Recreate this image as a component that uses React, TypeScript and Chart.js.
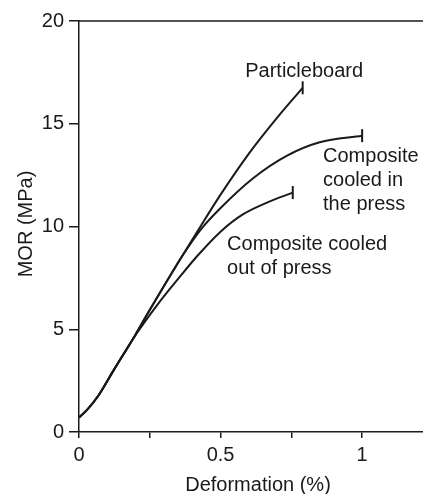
import React, { useEffect, useRef } from "react";
import { Chart, registerables } from "chart.js";

Chart.register(...registerables);

// Particleboard
const pbX = [0, 0.03, 0.07, 0.12, 0.2, 0.244, 0.3, 0.364, 0.42, 0.5, 0.6, 0.7, 0.79];
const pbY = [0.7, 1.1, 1.8, 2.95, 4.75, 5.8, 7.1, 8.55, 9.8, 11.55, 13.55, 15.3, 16.75];
// Composite cooled in the press
const inX = [0, 0.03, 0.07, 0.12, 0.2, 0.244, 0.3, 0.364, 0.43, 0.5, 0.615, 0.735, 0.85, 1.0];
const inY = [0.7, 1.1, 1.8, 2.95, 4.75, 5.8, 7.1, 8.55, 9.85, 10.9, 12.35, 13.45, 14.1, 14.42];
// Composite cooled out of press
const outX = [0, 0.03, 0.07, 0.12, 0.2, 0.28, 0.35, 0.42, 0.5, 0.58, 0.67, 0.755];
const outY = [0.7, 1.1, 1.8, 2.95, 4.72, 6.25, 7.45, 8.6, 9.75, 10.6, 11.2, 11.65];

const xTicks = [0, 0.25, 0.5, 0.75, 1];
const xTickLabels = ["0", "", "0.5", "", "1"];
const yTicks = [0, 5, 10, 15, 20];

const xTitle = "Deformation (%)";
const yTitle = "MOR (MPa)";

// annotation labels
const labelPB = { x: 0.587, y: 17.56, lines: ["Particleboard"] };
const labelIn = { x: 0.862, y: 13.41, lines: ["Composite", "cooled in", "the press"] };
const labelOut = { x: 0.523, y: 9.12, lines: ["Composite cooled", "out of press"] };

const FONT = "'Liberation Sans', Arial, Helvetica, sans-serif";
const INK = "#1a1a1a";

function series(xs: number[], ys: number[]) {
  return xs.map((x, i) => ({ x, y: ys[i] }));
}

function capRadius(n: number) {
  return Array.from({ length: n }, (_, i) => (i === n - 1 ? 6.5 : 0));
}

const textPlugin = {
  id: "texts",
  afterDraw(chart: any) {
    const { ctx, chartArea, scales } = chart;
    const xs = scales.x;
    const ys = scales.y;
    ctx.save();
    // top frame line
    ctx.strokeStyle = INK;
    ctx.lineWidth = 1.5;
    ctx.beginPath();
    ctx.moveTo(chartArea.left, chartArea.top);
    ctx.lineTo(chartArea.right, chartArea.top);
    ctx.stroke();

    ctx.fillStyle = INK;
    ctx.font = `20px ${FONT}`;
    ctx.textAlign = "left";
    ctx.textBaseline = "middle";
    for (const l of [labelPB, labelIn, labelOut]) {
      const px = xs.getPixelForValue(l.x);
      const py = ys.getPixelForValue(l.y);
      l.lines.forEach((t, i) => ctx.fillText(t, px, py + i * 24));
    }
    // x title
    ctx.textAlign = "center";
    ctx.fillText(xTitle, 258, 485);
    // y title
    ctx.translate(26, 224);
    ctx.rotate(-Math.PI / 2);
    ctx.fillText(yTitle, 0, 0);
    ctx.restore();
  },
};

export default function App() {
  const ref = useRef<HTMLCanvasElement | null>(null);
  useEffect(() => {
    if (!ref.current) return;
    const mk = (xs: number[], ys: number[]) => ({
      data: series(xs, ys),
      borderColor: INK,
      borderWidth: 2,
      cubicInterpolationMode: "monotone" as const,
      pointStyle: "line" as const,
      pointRotation: 90,
      pointRadius: capRadius(xs.length),
      pointBorderColor: INK,
      pointBorderWidth: 2,
      pointHoverRadius: 0,
      fill: false,
    });
    const chart = new Chart(ref.current, {
      type: "line",
      data: {
        datasets: [mk(pbX, pbY), mk(inX, inY), mk(outX, outY)],
      },
      plugins: [textPlugin],
      options: {
        animation: false,
        responsive: false,
        maintainAspectRatio: false,
        layout: { autoPadding: false, padding: { top: 21, right: 0, left: 0, bottom: 0 } },
        plugins: { legend: { display: false }, tooltip: { enabled: false } },
        scales: {
          x: {
            type: "linear",
            min: 0,
            max: 1.215,
            afterBuildTicks: (s: any) => {
              s.ticks = xTicks.map((v) => ({ value: v }));
            },
            afterFit: (s: any) => {
              s.height = 62;
              s.paddingLeft = 0;
              s.paddingRight = 0;
            },
            grid: { drawOnChartArea: false, drawTicks: true, tickLength: 6, color: INK, lineWidth: 1.5 },
            border: { display: true, color: INK, width: 1.5 },
            ticks: {
              color: INK,
              padding: 5,
              maxRotation: 0,
              autoSkip: false,
              font: { family: FONT, size: 20 },
              callback: (_v: any, i: number) => xTickLabels[i],
            },
          },
          y: {
            type: "linear",
            min: 0,
            max: 20,
            afterBuildTicks: (s: any) => {
              s.ticks = yTicks.map((v) => ({ value: v }));
            },
            afterFit: (s: any) => {
              s.width = 79;
              s.paddingTop = 0;
              s.paddingBottom = 0;
            },
            grid: { drawOnChartArea: false, drawTicks: true, tickLength: 10, color: INK, lineWidth: 1.5 },
            border: { display: true, color: INK, width: 1.5 },
            ticks: {
              color: INK,
              padding: 5,
              font: { family: FONT, size: 20 },
              callback: (v: any) => String(v),
            },
          },
        },
      },
    } as any);
    return () => chart.destroy();
  }, []);
  return (
    <div style={{ position: "fixed", left: 0, top: 0, width: 423, height: 494, background: "#fff" }}>
      <canvas ref={ref} width={423} height={494} style={{ display: "block" }} />
    </div>
  );
}
